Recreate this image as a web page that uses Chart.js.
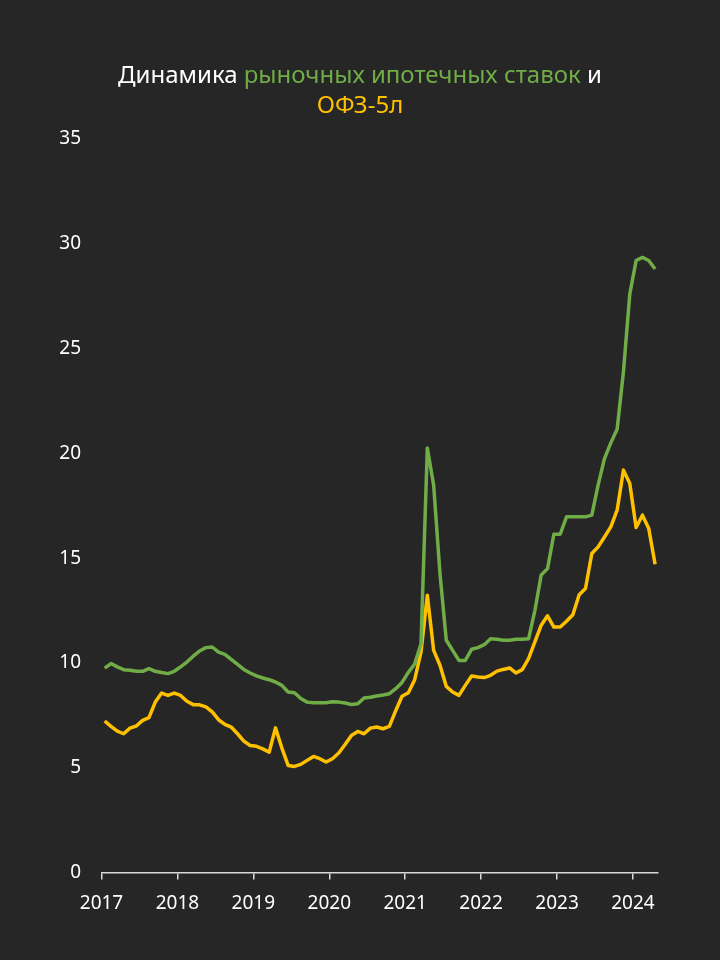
<!DOCTYPE html>
<html lang="ru">
<head>
<meta charset="utf-8">
<script src="https://cdn.jsdelivr.net/npm/chart.js@4.4.1/dist/chart.umd.min.js"></script>
<style>
  html, body { margin: 0; padding: 0; background: #262626; }
  #wrap { position: relative; width: 720px; height: 960px; }
  #title {
    position: absolute; left: 0; top: 59px; width: 720px;
    text-align: center; font: 24px "Noto Sans", sans-serif; line-height: 30px; color: #ffffff;
  }
  #title .green { color: #70AD47; }
  #title .yellow { color: #FFC000; }
  canvas { position: absolute; left: 0; top: 0; }
</style>
</head>
<body>
<div id="wrap">
  <canvas id="myChart" width="720" height="960"></canvas>
  <div id="title">Динамика <span class="green">рыночных ипотечных ставок</span> и<br><span class="yellow">ОФЗ-5л</span></div>
</div>
<script>
  // monthly data, january 2017 .. april 2024
  const START_YEAR = 2017;
  const yearLabels = ["2017","2018","2019","2020","2021","2022","2023","2024"];
  const mortgageRates = [
    9.75, 9.97, 9.81, 9.68, 9.65, 9.6, 9.6, 9.73, 9.6, 9.54, 9.49, 9.6,
    9.81, 10.04, 10.32, 10.57, 10.73, 10.76, 10.52, 10.41, 10.17, 9.93, 9.69, 9.52,
    9.38, 9.28, 9.2, 9.09, 8.93, 8.61, 8.58, 8.3, 8.13, 8.1, 8.1, 8.1,
    8.15, 8.13, 8.09, 8.02, 8.05, 8.33, 8.36, 8.42, 8.47, 8.53, 8.77, 9.07,
    9.55, 9.95, 10.92, 20.25, 18.48, 14.26, 11.08, 10.6, 10.12, 10.12, 10.65, 10.73,
    10.87, 11.15, 11.13, 11.08, 11.08, 11.13, 11.13, 11.15, 12.5, 14.2, 14.5, 16.14,
    16.14, 16.97, 16.97, 16.97, 16.97, 17.05, 18.5, 19.75, 20.5, 21.15, 23.9, 27.6,
    29.2, 29.35, 29.2, 28.8
  ];
  const ofz5y = [
    7.23, 6.97, 6.75, 6.62, 6.89, 6.99, 7.26, 7.39, 8.13, 8.56, 8.45, 8.56,
    8.45, 8.17, 8.01, 8.0, 7.9, 7.66, 7.29, 7.07, 6.94, 6.62, 6.27, 6.06,
    6.02, 5.9, 5.74, 6.9, 5.95, 5.11, 5.06, 5.16, 5.35, 5.54, 5.43, 5.27,
    5.43, 5.7, 6.11, 6.54, 6.73, 6.62, 6.89, 6.94, 6.86, 6.97, 7.72, 8.41,
    8.58, 9.2, 10.52, 13.23, 10.6, 9.89, 8.88, 8.61, 8.45, 8.93, 9.38, 9.33,
    9.3, 9.41, 9.61, 9.69, 9.76, 9.52, 9.68, 10.2, 11.0, 11.8, 12.25, 11.71,
    11.71, 11.99, 12.3, 13.25, 13.55, 15.22, 15.54, 16.01, 16.49, 17.29, 19.2, 18.56,
    16.46, 17.05, 16.41, 14.71
  ];

  // month index -> fractional year (mid-month)
  function toPoints(values) {
    return values.map((v, i) => ({ x: START_YEAR + (i + 0.5) / 12, y: v }));
  }

  const tickFont = { family: "Noto Sans", size: 19 };
  const axisColor = "#d9d9d9";

  const config = {
    type: "line",
    data: {
      datasets: [
        {
          label: "рыночные ипотечные ставки",
          data: toPoints(mortgageRates),
          borderColor: "#70AD47",
          borderWidth: 3.5,
          pointRadius: 0,
          tension: 0,
          borderJoinStyle: "round",
        },
        {
          label: "ОФЗ-5л",
          data: toPoints(ofz5y),
          borderColor: "#FFC000",
          borderWidth: 3.5,
          pointRadius: 0,
          tension: 0,
          borderJoinStyle: "round",
        },
      ],
    },
    options: {
      responsive: false,
      animation: false,
      devicePixelRatio: 1,
      layout: { padding: { left: 0, right: 62, top: 139, bottom: 0 } },
      plugins: {
        legend: { display: false },
        tooltip: { enabled: false },
      },
      scales: {
        x: {
          type: "linear",
          min: START_YEAR,
          max: 2024.33,
          grid: { display: true, drawOnChartArea: false, drawTicks: true, tickLength: 7, color: axisColor, lineWidth: 1.5 },
          border: { display: true, color: axisColor, width: 1.5 },
          ticks: {
            stepSize: 1,
            includeBounds: false,
            color: "#ffffff",
            font: tickFont,
            padding: 13,
            maxRotation: 0,
            callback: (v) => yearLabels[v - START_YEAR] ?? "",
          },
          afterFit: (scale) => { scale.height = 87.5; },
        },
        y: {
          min: 0,
          max: 35,
          grid: { display: false, drawTicks: false },
          border: { display: false },
          ticks: {
            stepSize: 5,
            color: "#ffffff",
            font: tickFont,
            padding: 20.5,
          },
          afterFit: (scale) => { scale.width = 101.5; },
        },
      },
    },
  };

  new Chart(document.getElementById("myChart"), config);
</script>
</body>
</html>
